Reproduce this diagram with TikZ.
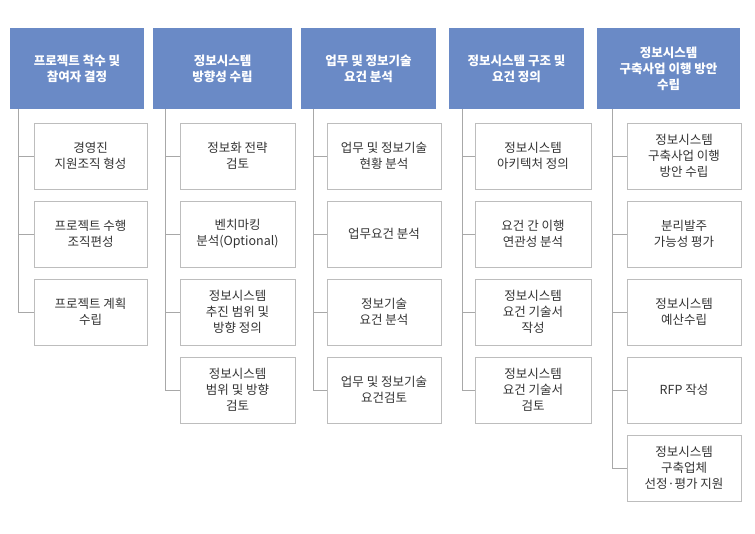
\documentclass[tikz,border=0pt]{standalone}
\usepackage{fontspec}
\setmainfont{Noto Sans CJK KR}
\begin{document}
\begin{tikzpicture}[x=1pt,y=-1pt,
  hdr/.style={fill=hblue,draw=none,text=white,font=\fontsize{12.5}{16}\selectfont\bfseries,align=center,inner sep=0pt},
  item/.style={draw=boxgray,line width=0.8pt,fill=white,text=txtgray,font=\fontsize{12.5}{16}\selectfont,align=center,inner sep=0pt},
  tree/.style={draw=linegray,line width=0.8pt}]
\definecolor{hblue}{HTML}{6A8AC6}
\definecolor{boxgray}{HTML}{BDBDBD}
\definecolor{linegray}{HTML}{A8A8A8}
\definecolor{txtgray}{HTML}{333333}
\useasboundingbox (0,0) rectangle (755,533);
\fill[white] (0,0) rectangle (755,533);
% headers
\node[hdr,minimum width=134,minimum height=81] (h1) at (77,68.5) {프로젝트 착수 및\\참여자 결정};
\node[hdr,minimum width=139,minimum height=81] (h2) at (222.5,68.5) {정보시스템\\방향성 수립};
\node[hdr,minimum width=135,minimum height=81] (h3) at (368.5,68.5) {업무 및 정보기술\\요건 분석};
\node[hdr,minimum width=135,minimum height=81] (h4) at (516.5,68.5) {정보시스템 구조 및\\요건 정의};
\node[hdr,minimum width=143,minimum height=81] (h5) at (668.5,68.5) {정보시스템\\구축사업 이행 방안\\수립};
% column 1
\node[item,minimum width=113,minimum height=66] (a1) at (90.5,156) {경영진\\지원조직 형성};
\node[item,minimum width=113,minimum height=66] (a2) at (90.5,234) {프로젝트 수행\\조직편성};
\node[item,minimum width=113,minimum height=66] (a3) at (90.5,312) {프로젝트 계획\\수립};
% column 2
\node[item,minimum width=115,minimum height=66] (b1) at (237.5,156) {정보화 전략\\검토};
\node[item,minimum width=115,minimum height=66] (b2) at (237.5,234) {벤치마킹\\분석(Optional)};
\node[item,minimum width=115,minimum height=66] (b3) at (237.5,312) {정보시스템\\추진 범위 및\\방향 정의};
\node[item,minimum width=115,minimum height=66] (b4) at (237.5,390) {정보시스템\\범위 및 방향\\검토};
% column 3
\node[item,minimum width=114,minimum height=66] (c1) at (384,156) {업무 및 정보기술\\현황 분석};
\node[item,minimum width=114,minimum height=66] (c2) at (384,234) {업무요건 분석};
\node[item,minimum width=114,minimum height=66] (c3) at (384,312) {정보기술\\요건 분석};
\node[item,minimum width=114,minimum height=66] (c4) at (384,390) {업무 및 정보기술\\요건검토};
% column 4
\node[item,minimum width=116,minimum height=66] (d1) at (533,156) {정보시스템\\아키텍처 정의};
\node[item,minimum width=116,minimum height=66] (d2) at (533,234) {요건 간 이행\\연관성 분석};
\node[item,minimum width=116,minimum height=66] (d3) at (533,312) {정보시스템\\요건 기술서\\작성};
\node[item,minimum width=116,minimum height=66] (d4) at (533,390) {정보시스템\\요건 기술서\\검토};
% column 5
\node[item,minimum width=114,minimum height=66] (e1) at (684,156) {정보시스템\\구축사업 이행\\방안 수립};
\node[item,minimum width=114,minimum height=66] (e2) at (684,234) {분리발주\\가능성 평가};
\node[item,minimum width=114,minimum height=66] (e3) at (684,312) {정보시스템\\예산수립};
\node[item,minimum width=114,minimum height=66] (e4) at (684,390) {RFP 작성};
\node[item,minimum width=114,minimum height=66] (e5) at (684,468) {정보시스템\\구축업체\\선정·평가 지원};
% trees
\foreach \h/\x/\last/\list in {h1/18/a3/{a1,a2,a3}, h2/165/b4/{b1,b2,b3,b4}, h3/313/c4/{c1,c2,c3,c4}, h4/462/d4/{d1,d2,d3,d4}, h5/612/e5/{e1,e2,e3,e4,e5}}{
  \draw[tree] (\h.south -| \x,0) -- (\last.west -| \x,0);
  \foreach \c in \list { \draw[tree] (\c.west -| \x,0) -- (\c.west); }
}
\end{tikzpicture}
\end{document}
